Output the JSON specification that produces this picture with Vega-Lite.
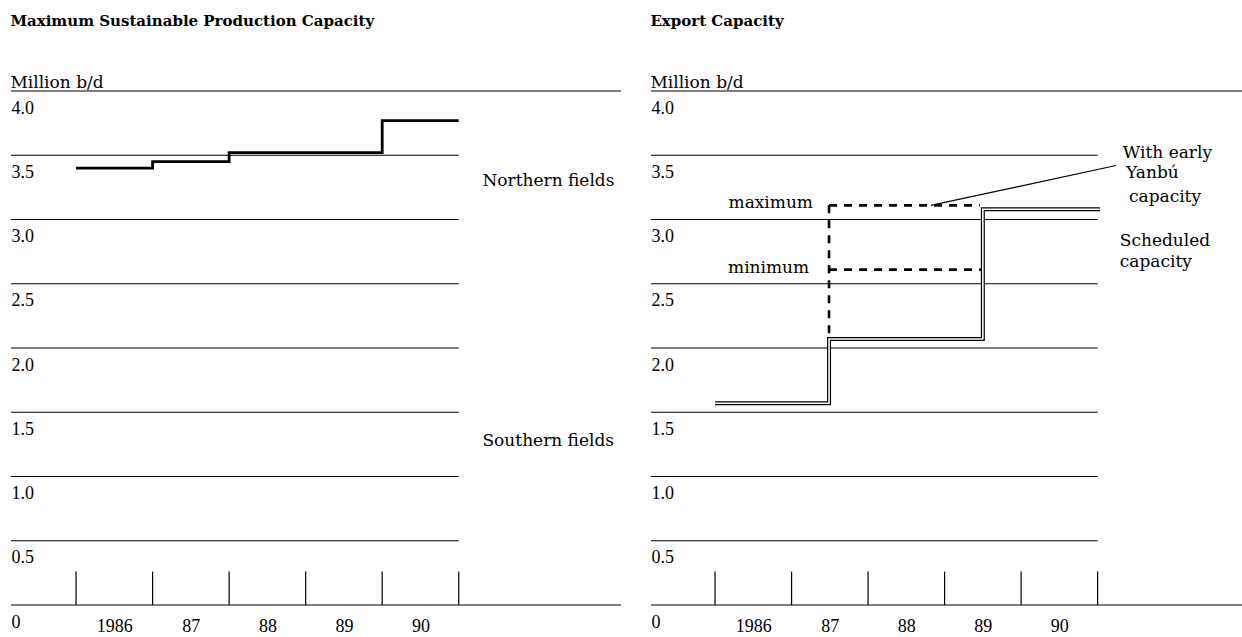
{
  "$schema": "https://vega.github.io/schema/vega-lite/v6.json",
  "padding": {"left": 10, "top": 14, "right": 0, "bottom": 0},
  "spacing": 28,
  "background": "white",
  "config": {
    "view": {"stroke": null},
    "text": {"font": "DejaVu Serif", "fontSize": 17, "color": "black", "baseline": "alphabetic"},
    "title": {"anchor": "start", "font": "DejaVu Serif", "fontSize": 15, "fontWeight": "bold", "color": "black", "subtitleFont": "DejaVu Serif", "subtitleFontSize": 17, "subtitleColor": "black", "subtitlePadding": 46, "offset": -1},
    "axisY": {"orient": "left", "domain": false, "ticks": false, "tickSize": 0, "grid": false, "labelAlign": "left", "labelBaseline": "top", "labelPadding": 0, "labelOffset": 8, "labelFont": "Liberation Serif", "labelFontSize": 18, "labelColor": "black", "labelFlush": false, "labelOverlap": false, "title": null},
    "axisX": {"orient": "bottom", "domain": false, "ticks": false, "tickSize": 0, "grid": false, "labelPadding": 12, "labelFont": "Liberation Serif", "labelFontSize": 18, "labelColor": "black", "labelFlush": false, "labelOverlap": false, "title": null}
  },
  "datasets": {
    "frame": [{"v": 0}, {"v": 4}],
    "grid": [{"v": 0.5}, {"v": 1}, {"v": 1.5}, {"v": 2}, {"v": 2.5}, {"v": 3}, {"v": 3.5}],
    "yearTicks": [{"year": 1986}, {"year": 1987}, {"year": 1988}, {"year": 1989}, {"year": 1990}, {"year": 1991}],
    "production": [
      {"year": 1986, "value": 3.40},
      {"year": 1987, "value": 3.45},
      {"year": 1988, "value": 3.52},
      {"year": 1990, "value": 3.77},
      {"year": 1991, "value": 3.77}
    ],
    "leftLabels": [
      {"x": 1991.31, "y": 3.26, "label": "Northern fields"},
      {"x": 1991.31, "y": 1.24, "label": "Southern fields"}
    ],
    "scheduled": [
      {"year": 1986.0, "value": 1.57},
      {"year": 1987.49, "value": 2.07},
      {"year": 1989.5, "value": 3.08},
      {"year": 1991.03, "value": 3.08}
    ],
    "yanbu": [
      {"x": 1987.49, "x2": 1989.46, "y": 3.11, "y2": 3.11},
      {"x": 1987.49, "x2": 1989.48, "y": 2.61, "y2": 2.61},
      {"x": 1987.49, "x2": 1987.49, "y": 3.11, "y2": 2.1}
    ],
    "leader": [{"x": 1988.82, "x2": 1991.24, "y": 3.11, "y2": 3.42}],
    "rightLabelsR": [
      {"x": 1987.28, "y": 3.09, "label": "maximum"},
      {"x": 1987.23, "y": 2.58, "label": "minimum"}
    ],
    "rightLabelsL": [
      {"x": 1991.33, "y": 3.48, "label": "With early"},
      {"x": 1991.37, "y": 3.32, "label": "Yanbú"},
      {"x": 1991.41, "y": 3.14, "label": "capacity"},
      {"x": 1991.29, "y": 2.79, "label": "Scheduled"},
      {"x": 1991.29, "y": 2.63, "label": "capacity"}
    ]
  },
  "hconcat": [
    {
      "width": 610,
      "height": 514,
      "title": {"text": "Maximum Sustainable Production Capacity", "subtitle": "Million b/d"},
      "layer": [
        {
          "data": {"name": "frame"},
          "mark": {"type": "rule", "color": "black", "strokeWidth": 1.2},
          "encoding": {
            "y": {"field": "v", "type": "quantitative", "scale": {"domain": [0, 4], "nice": false, "zero": true},
              "axis": {"values": [0, 0.5, 1, 1.5, 2, 2.5, 3, 3.5, 4], "labelExpr": "datum.value == 0 ? '0' : format(datum.value, '.1f')"}}
          }
        },
        {
          "data": {"name": "grid"},
          "mark": {"type": "rule", "color": "black", "strokeWidth": 1.2},
          "encoding": {
            "y": {"field": "v", "type": "quantitative"},
            "x": {"datum": 1985.15, "type": "quantitative"},
            "x2": {"datum": 1991.0}
          }
        },
        {
          "data": {"name": "yearTicks"},
          "mark": {"type": "rule", "color": "black", "strokeWidth": 1.2},
          "encoding": {
            "x": {"field": "year", "type": "quantitative", "scale": {"domain": [1985.15, 1993.12], "nice": false, "zero": false},
              "axis": {"values": [1986.5, 1987.5, 1988.5, 1989.5, 1990.5], "labelExpr": "datum.value < 1987 ? '1986' : format(floor(datum.value) % 100, '02d')"}},
            "y": {"datum": 0, "type": "quantitative"},
            "y2": {"datum": 0.26}
          }
        },
        {
          "data": {"name": "production"},
          "mark": {"type": "line", "interpolate": "step-after", "color": "black", "strokeWidth": 2.8},
          "encoding": {
            "x": {"field": "year", "type": "quantitative"},
            "y": {"field": "value", "type": "quantitative"}
          }
        },
        {
          "data": {"name": "leftLabels"},
          "mark": {"type": "text", "align": "left"},
          "encoding": {
            "x": {"field": "x", "type": "quantitative"},
            "y": {"field": "y", "type": "quantitative"},
            "text": {"field": "label"}
          }
        }
      ]
    },
    {
      "width": 592,
      "height": 514,
      "title": {"text": "Export Capacity", "subtitle": "Million b/d"},
      "layer": [
        {
          "data": {"name": "frame"},
          "mark": {"type": "rule", "color": "black", "strokeWidth": 1.2},
          "encoding": {
            "y": {"field": "v", "type": "quantitative", "scale": {"domain": [0, 4], "nice": false, "zero": true},
              "axis": {"values": [0, 0.5, 1, 1.5, 2, 2.5, 3, 3.5, 4], "labelExpr": "datum.value == 0 ? '0' : format(datum.value, '.1f')"}}
          }
        },
        {
          "data": {"name": "grid"},
          "mark": {"type": "rule", "color": "black", "strokeWidth": 1.2},
          "encoding": {
            "y": {"field": "v", "type": "quantitative"},
            "x": {"datum": 1985.163, "type": "quantitative"},
            "x2": {"datum": 1991.0}
          }
        },
        {
          "data": {"name": "yearTicks"},
          "mark": {"type": "rule", "color": "black", "strokeWidth": 1.2},
          "encoding": {
            "x": {"field": "year", "type": "quantitative", "scale": {"domain": [1985.163, 1992.9], "nice": false, "zero": false},
              "axis": {"values": [1986.5, 1987.5, 1988.5, 1989.5, 1990.5], "labelExpr": "datum.value < 1987 ? '1986' : format(floor(datum.value) % 100, '02d')"}},
            "y": {"datum": 0, "type": "quantitative"},
            "y2": {"datum": 0.26}
          }
        },
        {
          "data": {"name": "yanbu"},
          "mark": {"type": "rule", "color": "black", "strokeWidth": 2.6, "strokeDash": [8, 7]},
          "encoding": {
            "x": {"field": "x", "type": "quantitative"},
            "x2": {"field": "x2"},
            "y": {"field": "y", "type": "quantitative"},
            "y2": {"field": "y2"}
          }
        },
        {
          "data": {"name": "leader"},
          "mark": {"type": "rule", "color": "black", "strokeWidth": 1.2},
          "encoding": {
            "x": {"field": "x", "type": "quantitative"},
            "x2": {"field": "x2"},
            "y": {"field": "y", "type": "quantitative"},
            "y2": {"field": "y2"}
          }
        },
        {
          "data": {"name": "scheduled"},
          "mark": {"type": "line", "interpolate": "step-after", "color": "black", "strokeWidth": 4},
          "encoding": {
            "x": {"field": "year", "type": "quantitative"},
            "y": {"field": "value", "type": "quantitative"}
          }
        },
        {
          "data": {"name": "scheduled"},
          "mark": {"type": "line", "interpolate": "step-after", "color": "white", "strokeWidth": 1.6},
          "encoding": {
            "x": {"field": "year", "type": "quantitative"},
            "y": {"field": "value", "type": "quantitative"}
          }
        },
        {
          "data": {"name": "rightLabelsR"},
          "mark": {"type": "text", "align": "right"},
          "encoding": {
            "x": {"field": "x", "type": "quantitative"},
            "y": {"field": "y", "type": "quantitative"},
            "text": {"field": "label"}
          }
        },
        {
          "data": {"name": "rightLabelsL"},
          "mark": {"type": "text", "align": "left"},
          "encoding": {
            "x": {"field": "x", "type": "quantitative"},
            "y": {"field": "y", "type": "quantitative"},
            "text": {"field": "label"}
          }
        }
      ]
    }
  ]
}
